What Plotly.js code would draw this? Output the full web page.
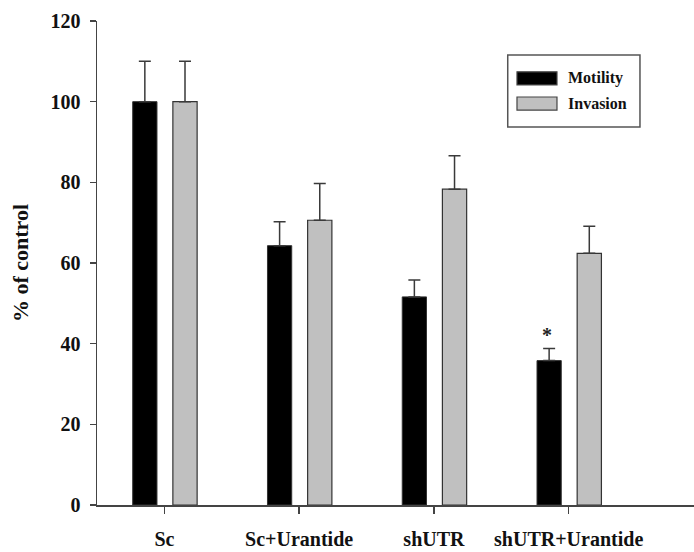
<!DOCTYPE html>
<html>
<head>
<meta charset="utf-8">
<script src="https://cdn.plot.ly/plotly-3.0.1.min.js"></script>
<style>
  html, body { margin: 0; padding: 0; background: #fff; }
  #chart { width: 694px; height: 552px; }
</style>
</head>
<body>
<div id="chart"></div>
<script>
// Data
const categories = ["Sc", "Sc+Urantide", "shUTR", "shUTR+Urantide"];
const motility = [100, 64.3, 51.6, 35.8];
const motilityErr = [10, 5.9, 4.2, 3.0];
const invasion = [100, 70.6, 78.3, 62.4];
const invasionErr = [10, 9.1, 8.3, 6.7];
const yTicks = [0, 20, 40, 60, 80, 100, 120];
const seriesNames = ["Motility", "Invasion"];
const significance = ["", "", "", "*"]; // marks above motility bars

const font = '"Liberation Serif", "Times New Roman", serif';
const colors = ["#000000", "#c0c0c0"];
const zeros = categories.map(() => 0);

const traces = [
  {
    type: "bar", name: seriesNames[0], x: categories, y: motility,
    offset: -0.235, width: 0.18, showlegend: false,
    marker: { color: colors[0], line: { color: "#333333", width: 1 } },
    error_y: { type: "data", symmetric: false, array: motilityErr, arrayminus: zeros,
               color: "#3a3a3a", thickness: 1.5, width: 6 }
  },
  {
    type: "bar", name: seriesNames[1], x: categories, y: invasion,
    offset: 0.063, width: 0.18, showlegend: false,
    marker: { color: colors[1], line: { color: "#333333", width: 1.2 } },
    error_y: { type: "data", symmetric: false, array: invasionErr, arrayminus: zeros,
               color: "#3a3a3a", thickness: 1.5, width: 6 }
  }
];

const annotations = [];
categories.forEach((c, i) => {
  if (significance[i]) {
    annotations.push({
      x: i - 0.16, y: motility[i] + motilityErr[i], xref: "x", yref: "y",
      text: "<b>" + significance[i] + "</b>", showarrow: false, yanchor: "bottom", yshift: 1,
      font: { family: font, size: 20, color: "#222" }
    });
  }
});

// Legend box drawn in paper coordinates
const shapes = [
  { type: "rect", xref: "paper", yref: "paper", x0: 0.688, x1: 0.9095, y0: 0.781, y1: 0.93,
    fillcolor: "#ffffff", line: { color: "#555555", width: 1.5 }, layer: "above" }
];
const legendRows = [0.8815, 0.8295];
seriesNames.forEach((name, k) => {
  shapes.push({ type: "rect", xref: "paper", yref: "paper",
    x0: 0.7035, x1: 0.7705, y0: legendRows[k] - 0.0135, y1: legendRows[k] + 0.0135,
    fillcolor: colors[k], line: { color: "#444444", width: 1.2 }, layer: "above" });
  annotations.push({ xref: "paper", yref: "paper", x: 0.785, y: legendRows[k],
    xanchor: "left", yanchor: "middle", showarrow: false,
    text: "<b>" + name + "</b>", font: { family: font, size: 16, color: "#111" } });
});

const layout = {
  width: 694, height: 552,
  margin: { l: 97, r: 0, t: 21, b: 47 },
  paper_bgcolor: "#ffffff", plot_bgcolor: "#ffffff",
  barmode: "overlay",
  showlegend: false,
  xaxis: {
    type: "category", range: [-0.5, 3.93],
    showline: true, linecolor: "#444444", linewidth: 1.5,
    ticks: "outside", ticklen: 7, tickwidth: 1.5, tickcolor: "#444444",
    showgrid: false, zeroline: false, fixedrange: true,
    tickfont: { family: font, size: 20, color: "#111", weight: "bold" },
    ticklabelstandoff: 8
  },
  yaxis: {
    range: [0, 120], tickvals: yTicks, ticktext: yTicks.map(String),
    showline: true, linecolor: "#444444", linewidth: 1.5,
    ticks: "outside", ticklen: 6, tickwidth: 1.5, tickcolor: "#444444",
    showgrid: false, zeroline: false, fixedrange: true,
    tickfont: { family: font, size: 20, color: "#111", weight: "bold" },
    ticklabelstandoff: 5,
    title: { text: "<b>% of control</b>", font: { family: font, size: 22, color: "#111" }, standoff: 16 }
  },
  font: { family: font },
  shapes: shapes,
  annotations: annotations
};

Plotly.newPlot("chart", traces, layout, { displayModeBar: false, staticPlot: true });
</script>
</body>
</html>
